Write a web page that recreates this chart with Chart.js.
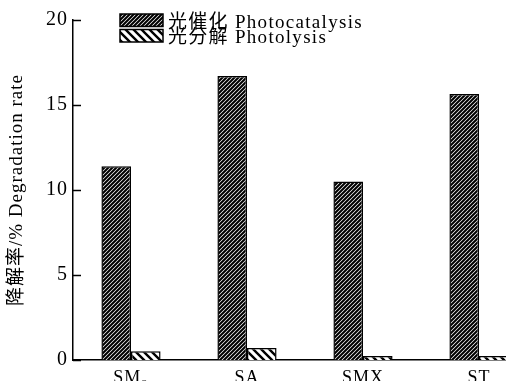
<!DOCTYPE html>
<html><head><meta charset="utf-8">
<script src="https://cdn.jsdelivr.net/npm/chart.js@4/dist/chart.umd.min.js"></script>
<style>html,body{margin:0;padding:0;background:#fff;overflow:hidden;width:506px;height:381px}#w{width:540px;height:381px}</style>
</head><body><div id="w"><canvas id="c" width="540" height="381"></canvas></div>
<script>
const categories = ['SM₂', 'SA', 'SMX', 'ST'];
const photocatalysis = [11.4, 16.7, 10.5, 15.65];
const photolysis = [0.52, 0.7, 0.23, 0.23];
const seriesNames = ['光催化 Photocatalysis', '光分解 Photolysis'];
const yTicks = [0, 5, 10, 15, 20];
const yTitle = '降解率/% Degradation rate';

const FONT = '"Liberation Serif", "Noto Sans CJK SC", serif';

function hatch(spacing, lw, dir) {
  const t = document.createElement('canvas');
  t.width = spacing; t.height = spacing;
  const g = t.getContext('2d');
  g.fillStyle = '#fff'; g.fillRect(0, 0, spacing, spacing);
  g.strokeStyle = '#000'; g.lineWidth = lw; g.lineCap = 'square';
  g.beginPath();
  if (dir > 0) {
    g.moveTo(-1, spacing + 1); g.lineTo(spacing + 1, -1);
    g.moveTo(-1, 1); g.lineTo(1, -1);
    g.moveTo(spacing - 1, spacing + 1); g.lineTo(spacing + 1, spacing - 1);
  } else {
    g.moveTo(-1, -1); g.lineTo(spacing + 1, spacing + 1);
    g.moveTo(spacing - 1, -1); g.lineTo(spacing + 1, 1);
    g.moveTo(-1, spacing - 1); g.lineTo(1, spacing + 1);
  }
  g.stroke();
  return g.createPattern(t, 'repeat');
}
const pat1 = hatch(4, 2.1, 1);
const pat2 = hatch(8, 2.4, -1);

const decor = {
  id: 'decor',
  beforeDraw(chart) { chart.ctx.letterSpacing = '1px'; },
  afterDraw(chart) {
    const ctx = chart.ctx, y = chart.scales.y, a = chart.chartArea;
    ctx.save();
    ctx.strokeStyle = '#000'; ctx.lineWidth = 1.5;
    yTicks.forEach(v => {
      const p = Math.round(y.getPixelForValue(v)) + 0.5;
      ctx.beginPath(); ctx.moveTo(a.left, p); ctx.lineTo(a.left + 8, p); ctx.stroke();
    });
    // legend
    const items = [[pat1, seriesNames[0]], [pat2, seriesNames[1]]];
    items.forEach((it, i) => {
      const bx = 120, by = 14 + i * 15.5, bw = 43, bh = 12.5;
      ctx.fillStyle = it[0]; ctx.fillRect(bx, by, bw, bh);
      ctx.lineWidth = 1.5; ctx.strokeStyle = '#000'; ctx.strokeRect(bx, by, bw, bh);
      ctx.fillStyle = '#000'; ctx.font = '19px ' + FONT;
      ctx.letterSpacing = '1.3px';
      ctx.textBaseline = 'middle'; ctx.textAlign = 'left';
      ctx.fillText(it[1], 168, by + bh / 2 + 2.5);
    });
    ctx.restore();
    ctx.letterSpacing = '0px';
  }
};

new Chart(document.getElementById('c'), {
  type: 'bar',
  data: {
    labels: categories,
    datasets: [
      { label: seriesNames[0], data: photocatalysis, backgroundColor: pat1, borderColor: '#000', borderWidth: 1.5, borderSkipped: 'bottom' },
      { label: seriesNames[1], data: photolysis, backgroundColor: pat2, borderColor: '#000', borderWidth: 1.5, borderSkipped: 'bottom' }
    ]
  },
  options: {
    responsive: false, animation: false,
    layout: { padding: { left: 0, top: 20, right: 3, bottom: 0 } },
    categoryPercentage: 0.51, barPercentage: 1,
    plugins: { legend: { display: false }, tooltip: { enabled: false } },
    scales: {
      x: {
        grid: { display: false, drawTicks: false },
        border: { display: true, color: '#000', width: 1.5 },
        ticks: { color: '#000', font: { family: FONT, size: 18 }, padding: 7, maxRotation: 0 },
        afterFit(s) { s.height = 21; }
      },
      y: {
        min: 0, max: 20,
        afterBuildTicks(s) { s.ticks = yTicks.map(v => ({ value: v })); },
        grid: { display: false, drawTicks: false },
        border: { display: true, color: '#000', width: 1.5 },
        ticks: { color: '#000', font: { family: FONT, size: 20 }, padding: 5 },
        title: { display: true, text: yTitle, color: '#000', font: { family: FONT, size: 19 }, padding: { top: 6, bottom: 0 } },
        afterFit(s) { s.width = 73; }
      }
    }
  },
  plugins: [decor]
});
</script></body></html>
